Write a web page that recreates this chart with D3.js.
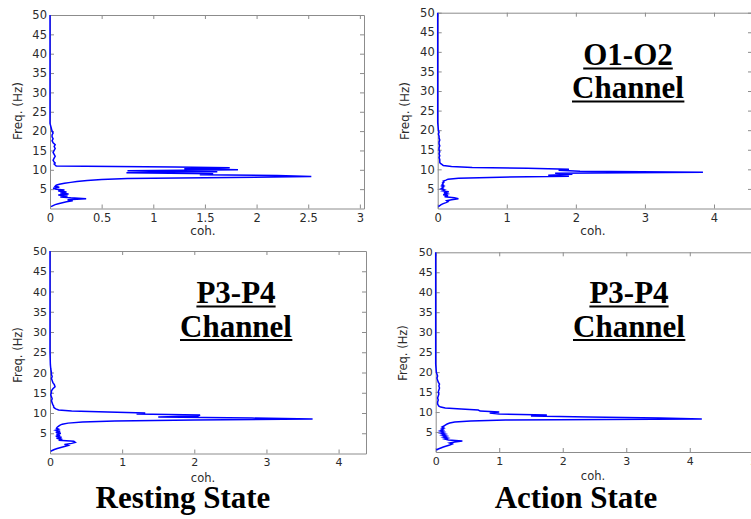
<!DOCTYPE html>
<html lang="en">
<head>
  <meta charset="UTF-8">
  <title>Coherence - Resting vs Action State</title>
  <script src="https://d3js.org/d3.v7.min.js"></script>
  <style>
    body { margin: 0; background: #fff; }
    svg { display: block; }
  </style>
</head>
<body>
<div id="chart"></div>
<script>
// frequency grid (Hz), shared by all four traces
var freq = [0.5, 0.75, 1, 1.25, 1.5, 1.75, 2, 2.25, 2.5, 2.75,
  3, 3.25, 3.5, 3.75, 4, 4.25, 4.5, 4.75, 5, 5.25,
  5.5, 5.75, 6, 6.25, 6.5, 6.75, 7, 7.25, 7.5, 7.75,
  8, 8.25, 8.5, 8.75, 9, 9.25, 9.5, 9.75, 10, 10.25,
  10.5, 10.75, 11, 11.25, 11.5, 11.75, 12,
  12.5, 13, 13.5, 14, 14.5, 15, 15.5, 16, 16.5, 17, 17.5, 18, 18.5, 19, 19.5, 20,
  21, 22, 25, 30, 35, 40, 45, 50];

// coherence
var cohRestO1O2 = [0.01, 0.03, 0.05, 0.08, 0.12, 0.16, 0.22, 0.17, 0.35, 0.20,
  0.10, 0.17, 0.08, 0.18, 0.10, 0.16, 0.08, 0.14, 0.06, 0.03,
  0.09, 0.05, 0.06, 0.09, 0.14, 0.20, 0.26, 0.36, 0.50, 0.75,
  1.75, 2.53, 2.20, 1.45, 1.58, 0.74, 1.62, 0.75, 1.82, 1.30,
  1.74, 1.21, 0.06, 0.05, 0.04, 0.05, 0.04,
  0.03, 0.04, 0.05, 0.04, 0.03, 0.04, 0.05, 0.04, 0.05, 0.03, 0.02, 0.03, 0.02, 0.02, 0.03, 0.02,
  0.01, 0, 0, 0, 0, 0, 0, 0];

var cohActO1O2 = [0.01, 0.03, 0.05, 0.08, 0.12, 0.15, 0.13, 0.20, 0.30, 0.24,
  0.10, 0.15, 0.08, 0.14, 0.09, 0.16, 0.07, 0.10, 0.05, 0.08,
  0.06, 0.09, 0.06, 0.08, 0.07, 0.09, 0.08, 0.12, 0.15, 0.30,
  0.90, 1.90, 1.60, 1.95, 1.70, 3.84, 2.06, 1.75, 1.90, 1.30,
  0.50, 0.20, 0.08, 0.06, 0.04, 0.03, 0.03,
  0.03, 0.02, 0.03, 0.02, 0.03, 0.02, 0.02, 0.03, 0.02, 0.02, 0.03, 0.02, 0.02, 0.01, 0.02, 0.01,
  0.005, 0, 0, 0, 0, 0, 0, 0];

var cohRestP3P4 = [0.01, 0.03, 0.06, 0.10, 0.15, 0.20, 0.25, 0.20, 0.30, 0.35,
  0.33, 0.12, 0.17, 0.09, 0.16, 0.08, 0.14, 0.09, 0.15, 0.08,
  0.14, 0.08, 0.12, 0.09, 0.10, 0.12, 0.14, 0.17, 0.25, 0.45,
  0.90, 2.00, 3.64, 2.80, 1.50, 2.05, 2.08, 1.20, 1.32, 0.80,
  0.30, 0.12, 0.08, 0.06, 0.05, 0.05, 0.04,
  0.03, 0.02, 0.03, 0.02, 0.01, 0.02, 0.02, 0.04, 0.07, 0.06, 0.04, 0.03, 0.02, 0.03, 0.02, 0.02,
  0.01, 0.005, 0, 0, 0, 0, 0, 0];

var cohActP3P4 = [0.01, 0.04, 0.08, 0.12, 0.17, 0.22, 0.26, 0.22, 0.30, 0.42,
  0.20, 0.14, 0.19, 0.12, 0.17, 0.10, 0.15, 0.08, 0.13, 0.07,
  0.12, 0.09, 0.13, 0.10, 0.13, 0.15, 0.18, 0.22, 0.30, 0.55,
  1.10, 4.19, 3.53, 2.40, 1.50, 1.75, 1.00, 0.85, 1.00, 0.70,
  0.67, 0.40, 0.15, 0.08, 0.05, 0.04, 0.03,
  0.03, 0.04, 0.03, 0.04, 0.05, 0.04, 0.05, 0.06, 0.05, 0.06, 0.04, 0.03, 0.02, 0.03, 0.02, 0.01,
  0.005, 0, 0, 0, 0, 0, 0, 0];

// tick labels
var freqTicks = [5, 10, 15, 20, 25, 30, 35, 40, 45, 50];
var cohTicksRestO1O2 = [0, 0.5, 1, 1.5, 2, 2.5, 3];
var cohTicksActO1O2 = [0, 1, 2, 3, 4];
var cohTicksRestP3P4 = [0, 1, 2, 3, 4];
var cohTicksActP3P4 = [0, 1, 2, 3, 4, 5];

var stateLabels = ["Resting State", "Action State"];
var channelLabels = ["O1-O2", "P3-P4"];

// panel layout (pixels)
var panels = [
  {coh: cohRestO1O2, ticks: cohTicksRestO1O2, xMax: 3.04, left: 50, right: 364, top: 15, bottom: 208.5,
   fs: 11.5, cohLab: [203, 235], freqLab: [17.5, 111], title: null},
  {coh: cohActO1O2, ticks: cohTicksActO1O2, xMax: 4.55, left: 437.7, right: 752, top: 12.7, bottom: 208.5,
   fs: 11.5, cohLab: [593, 235], freqLab: [405, 111], title: channelLabels[0], titleX: 628, titleY: [65, 98]},
  {coh: cohRestP3P4, ticks: cohTicksRestP3P4, xMax: 4.38, left: 50, right: 366, top: 251, bottom: 453.5,
   fs: 11, cohLab: [203, 482], freqLab: [17.5, 355], title: channelLabels[1], titleX: 236, titleY: [303, 336.5]},
  {coh: cohActP3P4, ticks: cohTicksActP3P4, xMax: 5.2, left: 435.7, right: 766, top: 252.3, bottom: 452,
   fs: 11, cohLab: [593, 480], freqLab: [402.5, 353], title: channelLabels[1], titleX: 629, titleY: [303, 336.5]}
];

var width = 751, height = 519;
var boxColour = "#8c8c8c";
var textColour = "#2b2b2b";

var svg = d3.select("#chart").append("svg")
  .attr("width", width)
  .attr("height", height);

svg.append("rect").attr("width", width).attr("height", height).attr("fill", "#fff");

var serif = "'Liberation Serif', 'Times New Roman', serif";
var sans = "'DejaVu Sans', Arial, sans-serif";

function underlined(x, y, txt) {
  var t = svg.append("text")
    .attr("x", x).attr("y", y)
    .attr("text-anchor", "middle")
    .style("font-family", serif)
    .style("font-weight", "bold")
    .style("font-size", "31px")
    .attr("fill", "#000")
    .text(txt);
  var b = t.node().getBBox();
  svg.append("line")
    .attr("x1", b.x).attr("x2", b.x + b.width)
    .attr("y1", y + 3.5).attr("y2", y + 3.5)
    .attr("stroke", "#000").attr("stroke-width", 2.2);
}

panels.forEach(function(p) {
  var x = d3.scaleLinear().domain([0, p.xMax]).range([p.left, p.right]);
  var y = d3.scaleLinear().domain([0, 50]).range([p.bottom, p.top]);
  var fmt = d3.format("~g");

  // box with inward ticks on all four sides
  var gB = svg.append("g").attr("transform", "translate(0," + p.bottom + ")")
    .call(d3.axisBottom(x).tickValues(p.ticks).tickFormat(fmt).tickSizeInner(-4).tickSizeOuter(0).tickPadding(5));
  var gT = svg.append("g").attr("transform", "translate(0," + p.top + ")")
    .call(d3.axisTop(x).tickValues(p.ticks).tickFormat("").tickSizeInner(-4).tickSizeOuter(0));
  var gL = svg.append("g").attr("transform", "translate(" + p.left + ",0)")
    .call(d3.axisLeft(y).tickValues(freqTicks).tickSizeInner(-4).tickSizeOuter(0).tickPadding(3));
  var gR = svg.append("g").attr("transform", "translate(" + p.right + ",0)")
    .call(d3.axisRight(y).tickValues(freqTicks).tickFormat("").tickSizeInner(-4).tickSizeOuter(0));

  [gB, gT, gL, gR].forEach(function(g) {
    g.selectAll("path, line").attr("stroke", boxColour);
    g.selectAll("text").attr("fill", textColour).attr("font-family", sans).attr("font-size", p.fs);
  });

  // coherence trace
  var pts = freq.map(function(f, i) { return {f: f, c: p.coh[i]}; });
  svg.append("path")
    .datum(pts)
    .attr("fill", "none")
    .attr("stroke", "#0000ff")
    .attr("stroke-width", 1.5)
    .attr("d", d3.line().x(function(d) { return x(d.c); }).y(function(d) { return y(d.f); }));

  // axis labels
  svg.append("text")
    .attr("x", p.cohLab[0]).attr("y", p.cohLab[1])
    .attr("text-anchor", "middle")
    .attr("font-family", sans).attr("font-size", p.fs + 0.5)
    .attr("fill", textColour)
    .text("coh.");
  svg.append("text")
    .attr("transform", "translate(" + p.freqLab[0] + "," + p.freqLab[1] + ") rotate(-90)")
    .attr("dy", "0.35em")
    .attr("text-anchor", "middle")
    .attr("font-family", sans).attr("font-size", p.fs + 0.5)
    .attr("fill", textColour)
    .text("Freq. (Hz)");

  if (p.title) {
    underlined(p.titleX, p.titleY[0], p.title);
    underlined(p.titleX, p.titleY[1], "Channel");
  }
});

// state labels under each column
svg.selectAll(".state")
  .data(stateLabels)
  .enter().append("text")
  .attr("class", "state")
  .attr("x", function(d, i) { return i === 0 ? 183 : 576; })
  .attr("y", 508)
  .attr("text-anchor", "middle")
  .style("font-family", serif)
  .style("font-weight", "bold")
  .style("font-size", "31px")
  .attr("fill", "#000")
  .text(function(d) { return d; });
</script>
</body>
</html>
